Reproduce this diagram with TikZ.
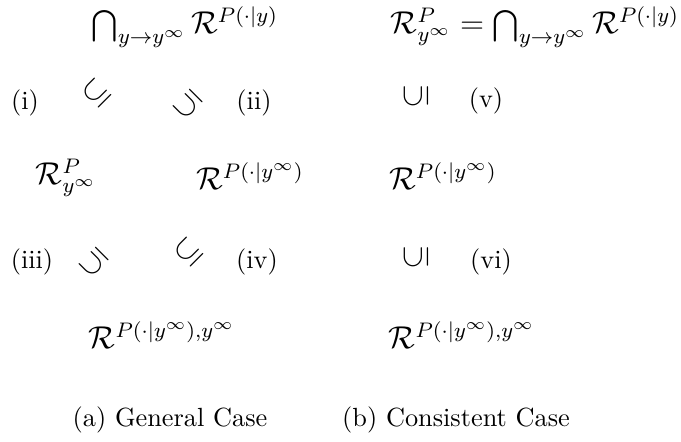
\documentclass[tikz,border=0pt]{standalone}
\usepackage{amsmath,amssymb}
\usetikzlibrary{positioning}
\tikzset{
  setbox/.style={inner sep=0pt, font=\large},
  relbox/.style={inner sep=0pt, font=\large},
  tagbox/.style={inner sep=0pt},
  capbox/.style={inner sep=0pt}
}

\begin{document}
\begin{tikzpicture}[x=0.3803pt, y=-0.3803pt]
  \useasboundingbox (0,0) rectangle (681,442);
  % (a) general case
  \node[setbox] (gtop) at (185,27) {$\bigcap_{y\to y^\infty}\mathcal{R}^{P(\cdot|y)}$};
  \node[setbox] (gleft) at (66,178) {$\mathcal{R}^P_{y^\infty}$};
  \node[setbox] (gright) at (250,176) {$\mathcal{R}^{P(\cdot|y^\infty)}$};
  \node[setbox] (gbot) at (162,335) {$\mathcal{R}^{P(\cdot|y^\infty),y^\infty}$};
  \node[relbox, rotate=45] (r1) at (97,93) {$\subseteq$};
  \node[relbox, rotate=135] (r2) at (188,104) {$\subseteq$};
  \node[relbox, rotate=135] (r3) at (94,262) {$\subseteq$};
  \node[relbox, rotate=45] (r4) at (189,252) {$\subseteq$};
  \node[tagbox] (t1) at (25,103) {(i)};
  \node[tagbox] (t2) at (254,103) {(ii)};
  \node[tagbox] (t3) at (32,262) {(iii)};
  \node[tagbox] (t4) at (257,262) {(iv)};
  \node[capbox] (capa) at (170,420) {(a) General Case};
  % (b) consistent case
  \node[setbox] (ctop) at (535,27) {$\mathcal{R}^P_{y^\infty}=\bigcap_{y\to y^\infty}\mathcal{R}^{P(\cdot|y)}$};
  \node[setbox] (cmid) at (443,176) {$\mathcal{R}^{P(\cdot|y^\infty)}$};
  \node[setbox] (cbot) at (462,335) {$\mathcal{R}^{P(\cdot|y^\infty),y^\infty}$};
  \node[relbox, rotate=90] (r5) at (416,96) {$\subseteq$};
  \node[relbox, rotate=90] (r6) at (416,257) {$\subseteq$};
  \node[tagbox] (t5) at (486,101) {(v)};
  \node[tagbox] (t6) at (491,262) {(vi)};
  \node[capbox] (capb) at (456,420) {(b) Consistent Case};
\end{tikzpicture}
\end{document}
